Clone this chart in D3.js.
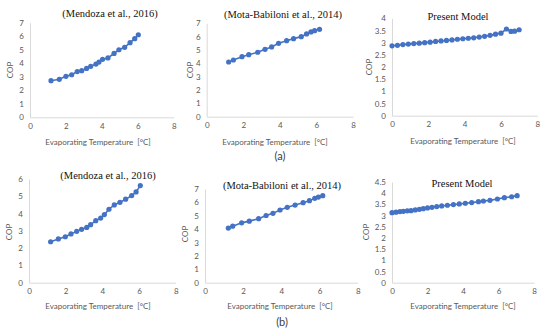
<!DOCTYPE html>
<html>
<head>
<meta charset="utf-8">
<script src="https://cdn.jsdelivr.net/npm/d3@7"></script>
<style>
  body { margin: 0; background: #fff; }
  text { font-family: Lato, "Open Sans", sans-serif; }
</style>
</head>
<body>
<svg id="fig" width="550" height="336"></svg>
<script>
// ---- data ----
const xTicks = [0, 2, 4, 6, 8]

// (a) Mendoza et al., 2016
const mendozaA_T   = [1.17, 1.63, 2.0, 2.32, 2.63, 2.88, 3.15, 3.38, 3.67, 3.84, 4.04, 4.34, 4.68, 4.95, 5.27, 5.57, 5.83, 6.03]
const mendozaA_COP = [2.71, 2.81, 3.03, 3.15, 3.38, 3.45, 3.62, 3.77, 3.94, 4.09, 4.29, 4.39, 4.73, 5.0, 5.18, 5.52, 5.82, 6.11]

// (a) Mota-Babiloni et al., 2014
const motaA_T   = [1.2, 1.46, 1.93, 2.3, 2.79, 3.19, 3.55, 3.93, 4.37, 4.75, 5.17, 5.46, 5.7, 5.9, 6.17]
const motaA_COP = [4.1, 4.25, 4.5, 4.65, 4.83, 5.05, 5.23, 5.5, 5.7, 5.85, 6.0, 6.2, 6.35, 6.45, 6.55]

// (a) Present model
const presentA_T   = [0, 0.3, 0.6, 0.9, 1.2, 1.5, 1.8, 2.1, 2.4, 2.7, 3.0, 3.3, 3.6, 3.9, 4.2, 4.5, 4.8, 5.1, 5.4, 5.7, 6.0, 6.3, 6.55, 6.75, 7.0]
const presentA_COP = [2.87, 2.89, 2.92, 2.94, 2.96, 2.98, 3.0, 3.02, 3.05, 3.07, 3.09, 3.11, 3.14, 3.16, 3.18, 3.2, 3.23, 3.26, 3.3, 3.35, 3.39, 3.56, 3.46, 3.47, 3.53]

// (b) Mendoza et al., 2016
const mendozaB_T   = [1.18, 1.6, 1.98, 2.29, 2.6, 2.87, 3.15, 3.36, 3.64, 3.91, 4.11, 4.36, 4.65, 4.96, 5.27, 5.6, 5.84, 6.07]
const mendozaB_COP = [2.37, 2.53, 2.66, 2.82, 2.97, 3.09, 3.2, 3.36, 3.59, 3.74, 3.94, 4.25, 4.5, 4.65, 4.83, 5.04, 5.25, 5.62]

// (b) Mota-Babiloni et al., 2014
const motaB_T   = [1.22, 1.45, 1.92, 2.32, 2.81, 3.2, 3.56, 3.93, 4.31, 4.72, 5.14, 5.47, 5.75, 5.94, 6.17]
const motaB_COP = [4.08, 4.22, 4.47, 4.6, 4.78, 5.02, 5.18, 5.43, 5.63, 5.8, 5.98, 6.13, 6.3, 6.4, 6.5]

// (b) Present model
const presentB_T   = [0, 0.23, 0.45, 0.64, 0.86, 1.07, 1.31, 1.54, 1.76, 2.0, 2.25, 2.52, 2.8, 3.12, 3.46, 3.79, 4.13, 4.49, 4.87, 5.15, 5.52, 5.94, 6.33, 6.74, 7.05]
const presentB_COP = [3.13, 3.15, 3.18, 3.19, 3.21, 3.22, 3.25, 3.28, 3.31, 3.34, 3.37, 3.4, 3.43, 3.46, 3.49, 3.52, 3.55, 3.58, 3.62, 3.65, 3.68, 3.74, 3.8, 3.84, 3.89]

const svg = d3.select('#fig')
const blue = '#4472c4'
const fmt = d3.format('~g')

let drawPanel = (p) => {
  let x = d3.scaleLinear().domain([0, 8]).range([p.x0, p.x1]),
      y = d3.scaleLinear().domain([0, p.ymax]).range([p.y0, p.y1]),
      g = svg.append('g')

  let xa = g.append('g')
    .attr('transform', `translate(0,${p.y0})`)
    .call(d3.axisBottom(x).tickValues(xTicks).tickSize(0).tickPadding(6).tickFormat(fmt))
  let ya = g.append('g')
    .attr('transform', `translate(${p.x0},0)`)
    .call(d3.axisLeft(y).tickValues(p.yTicks).tickSize(0).tickPadding(6).tickFormat(fmt))

  ;[xa, ya].forEach(a => {
    a.select('.domain').attr('stroke', '#d9d9d9')
    a.selectAll('text')
      .attr('fill', '#595959')
      .style('font-family', 'Lato, sans-serif')
      .style('font-size', '8px')
  })

  let pts = p.t.map((t, i) => [t, p.cop[i]])

  g.append('path')
    .datum(pts)
    .attr('fill', 'none')
    .attr('stroke', blue)
    .attr('stroke-width', 1.6)
    .attr('d', d3.line().x(d => x(d[0])).y(d => y(d[1])))

  g.selectAll('circle')
    .data(pts)
    .join('circle')
    .attr('cx', d => x(d[0]))
    .attr('cy', d => y(d[1]))
    .attr('r', 2.6)
    .attr('fill', blue)

  // title in a serif face
  g.append('text')
    .attr('x', p.tx)
    .attr('y', p.ty)
    .attr('text-anchor', 'middle')
    .style('font-family', '"Liberation Serif", "DejaVu Serif", serif')
    .style('font-size', '10.5px')
    .attr('fill', '#111')
    .text(p.title)

  g.append('text')
    .attr('x', p.lx)
    .attr('y', p.ly)
    .attr('text-anchor', 'middle')
    .attr('fill', '#595959')
    .style('font-size', '8px')
    .style('white-space', 'pre')
    .text('Evaporating Temperature  [°C]')

  g.append('text')
    .attr('transform', `translate(${p.cx},${p.cy}) rotate(-90)`)
    .attr('text-anchor', 'middle')
    .attr('fill', '#595959')
    .style('font-size', '8px')
    .text('COP')
}

const panels = [
  {t: mendozaA_T, cop: mendozaA_COP, ymax: 7, yTicks: d3.range(0, 8),
   x0: 30, x1: 173.7, y0: 117.3, y1: 22.7, title: '(Mendoza et al., 2016)',
   tx: 110, ty: 17, lx: 98, ly: 145, cx: 13, cy: 70},
  {t: motaA_T, cop: motaA_COP, ymax: 7, yTicks: d3.range(0, 8),
   x0: 206.7, x1: 353, y0: 116.7, y1: 23.3, title: '(Mota-Babiloni et al., 2014)',
   tx: 283, ty: 18, lx: 275, ly: 145, cx: 193, cy: 70},
  {t: presentA_T, cop: presentA_COP, ymax: 4, yTicks: d3.range(0, 4.01, 0.5),
   x0: 392, x1: 537.3, y0: 115.7, y1: 18.3, title: 'Present Model',
   tx: 458, ty: 20, lx: 463, ly: 144, cx: 372, cy: 67},
  {t: mendozaB_T, cop: mendozaB_COP, ymax: 6, yTicks: d3.range(0, 7),
   x0: 29, x1: 175.7, y0: 282.7, y1: 179, title: '(Mendoza et al., 2016)',
   tx: 108, ty: 179, lx: 98, ly: 309, cx: 12, cy: 232},
  {t: motaB_T, cop: motaB_COP, ymax: 7, yTicks: d3.range(0, 8),
   x0: 205, x1: 357.7, y0: 282.7, y1: 189, title: '(Mota-Babiloni et al., 2014)',
   tx: 282, ty: 189, lx: 280, ly: 309, cx: 188, cy: 234},
  {t: presentB_T, cop: presentB_COP, ymax: 4.5, yTicks: d3.range(0, 4.51, 0.5),
   x0: 392, x1: 534, y0: 282.7, y1: 182, title: 'Present Model',
   tx: 462, ty: 187, lx: 463, ly: 309, cx: 369, cy: 232}
]

panels.forEach(drawPanel)

// sub-figure labels
;[['(a)', 280, 160], ['(b)', 282, 326]].forEach(([s, xx, yy]) => {
  svg.append('text')
    .attr('x', xx)
    .attr('y', yy)
    .attr('text-anchor', 'middle')
    .attr('fill', '#404040')
    .style('font-size', '11px')
    .text(s)
})
</script>
</body>
</html>
